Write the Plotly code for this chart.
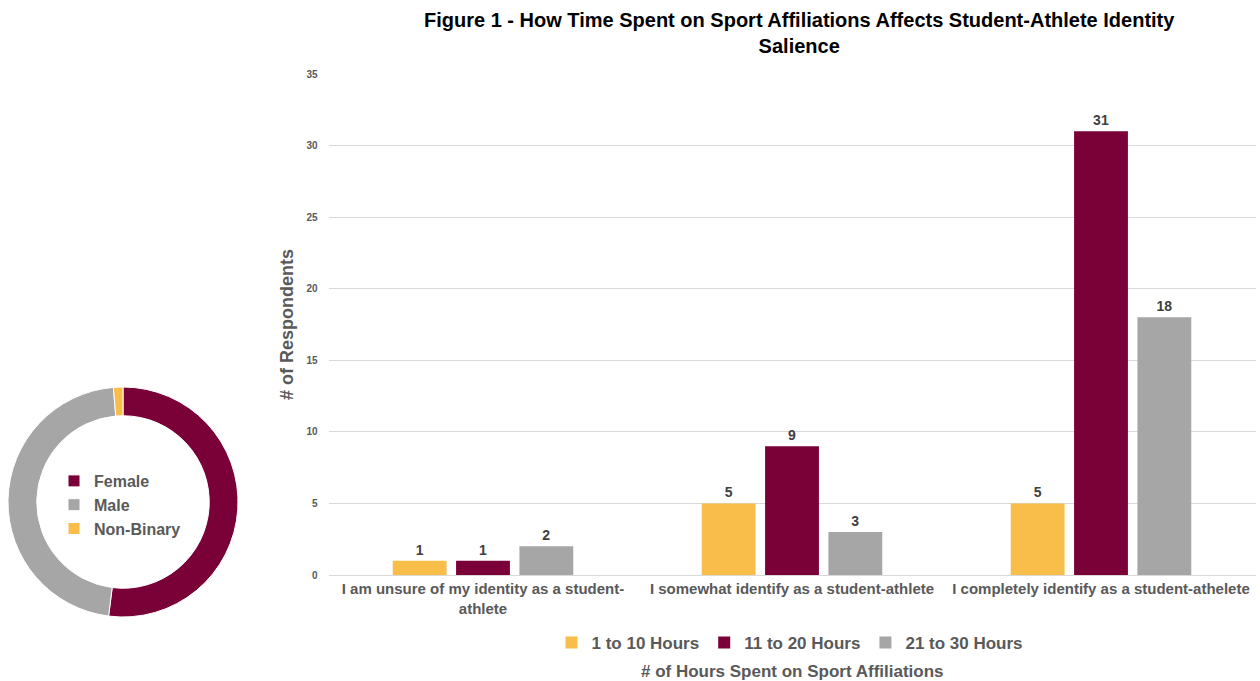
import plotly.graph_objects as go

# Identity salience by weekly hours spent on sport affiliations
categories = [
    "I am unsure of my identity as a student-athlete",
    "I somewhat identify as a student-athlete",
    "I completely identify as a student-athelete",
]
tick_labels = [
    "I am unsure of my identity as a student-<br>athlete",
    "I somewhat identify as a student-athlete",
    "I completely identify as a student-athelete",
]
series_names = ["1 to 10 Hours", "11 to 20 Hours", "21 to 30 Hours"]
hours_1_10 = [1, 5, 5]
hours_11_20 = [1, 9, 31]
hours_21_30 = [2, 3, 18]
series_values = [hours_1_10, hours_11_20, hours_21_30]

# Gender breakdown of respondents
gender_labels = ["Female", "Male", "Non-Binary"]
gender_counts = [39, 35, 1]

YELLOW = "#F9BE4A"
CRIMSON = "#7A0038"
GRAY = "#A6A6A6"
TEXT_GRAY = "#595959"
series_colors = [YELLOW, CRIMSON, GRAY]

W, H = 1260, 681


def px_x(x):
    return x / W


def px_y(y):
    return (H - y) / H


fig = go.Figure()

for name, vals, col in zip(series_names, series_values, series_colors):
    fig.add_trace(go.Bar(
        x=categories, y=vals, name=name,
        marker=dict(color=col, line=dict(width=0)),
        texttemplate="%{y}", textposition="outside",
        textfont=dict(size=14, color="#404040", family="Arial", weight="bold"),
        cliponaxis=False,
        legend="legend",
    ))

fig.add_trace(go.Pie(
    labels=gender_labels, values=gender_counts,
    hole=0.75, sort=False, direction="clockwise", rotation=0,
    marker=dict(colors=[CRIMSON, GRAY, YELLOW], line=dict(color="white", width=1)),
    textinfo="none", hoverinfo="label+value+percent",
    domain=dict(x=[px_x(8), px_x(238)], y=[px_y(617), px_y(387)]),
    legend="legend2",
))

fig.update_layout(
    width=W, height=H,
    margin=dict(l=0, r=0, t=0, b=0),
    paper_bgcolor="white", plot_bgcolor="white",
    barmode="group", bargap=0.385, bargroupgap=0.15,
    font=dict(family="Arial", color=TEXT_GRAY),
    xaxis=dict(
        domain=[px_x(328.5), px_x(1255.5)],
        tickmode="array", tickvals=categories, ticktext=tick_labels,
        tickfont=dict(size=15, color=TEXT_GRAY, weight="bold"),
        showline=True, linecolor="#D9D9D9", linewidth=1,
        ticks="", showgrid=False,
        automargin=False,
    ),
    yaxis=dict(
        domain=[px_y(575), px_y(74)],
        range=[0, 35], tick0=0, dtick=5,
        tickfont=dict(size=10, color=TEXT_GRAY, weight="bold"),
        ticks="outside", ticklen=8, tickcolor="rgba(0,0,0,0)",
        showgrid=True, gridcolor="#D9D9D9", gridwidth=1,
        zeroline=False, showline=False,
        title=dict(text="# of Respondents",
                   font=dict(size=18, color=TEXT_GRAY, weight="bold"),
                   standoff=8),
        automargin=False,
    ),
    legend=dict(
        orientation="h", x=px_x(790), xanchor="center",
        y=px_y(643), yanchor="middle",
        font=dict(size=17, color=TEXT_GRAY, weight="bold"),
        bgcolor="rgba(0,0,0,0)", itemclick=False,
    ),
    legend2=dict(
        orientation="v", x=px_x(54), xanchor="left",
        y=px_y(505), yanchor="middle",
        font=dict(size=16, color=TEXT_GRAY, weight="bold"),
        bgcolor="rgba(0,0,0,0)",
    ),
    annotations=[
        dict(
            text="Figure 1 - How Time Spent on Sport Affiliations Affects Student-Athlete Identity<br>Salience",
            xref="paper", yref="paper", x=px_x(799), y=px_y(33),
            xanchor="center", yanchor="middle", showarrow=False,
            font=dict(family="Arial", size=20, color="black", weight="bold"),
        ),
        # x-axis title, placed below the series legend
        dict(
            text="# of Hours Spent on Sport Affiliations",
            xref="paper", yref="paper", x=px_x(792), y=px_y(671),
            xanchor="center", yanchor="middle", showarrow=False,
            font=dict(family="Arial", size=17, color=TEXT_GRAY, weight="bold"),
        ),
    ],
)

fig.write_html("out.html")
